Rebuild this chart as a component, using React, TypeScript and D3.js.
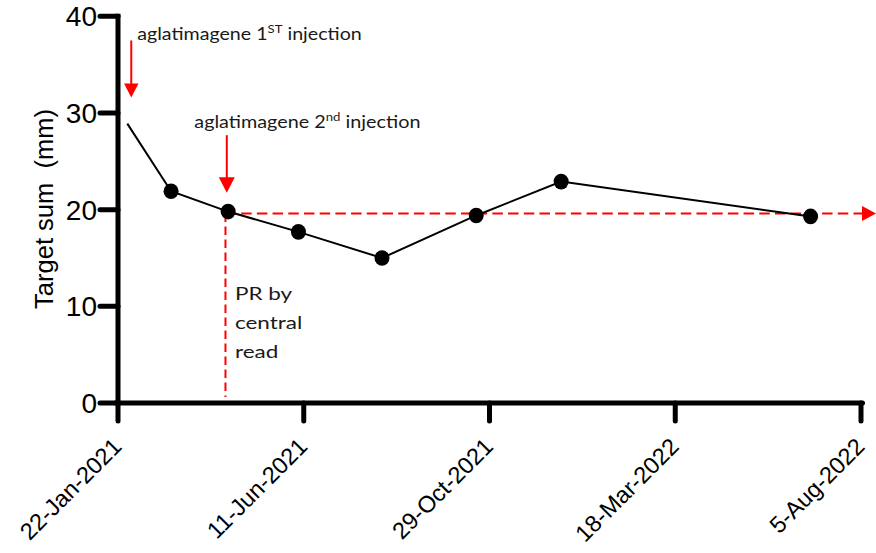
import React from "react";
import * as d3 from "d3";

const dates = ["2021-01-29", "2021-03-03", "2021-04-15", "2021-06-07", "2021-08-09", "2021-10-19", "2021-12-22", "2022-06-28"];
const targetSum = [28.9, 21.9, 19.8, 17.7, 15.0, 19.4, 22.9, 19.3];
const showMarker = [false, true, true, true, true, true, true, true];
const xTickLabels = ["22-Jan-2021", "11-Jun-2021", "29-Oct-2021", "18-Mar-2022", "5-Aug-2022"];
const xTickDates = ["2021-01-22", "2021-06-11", "2021-10-29", "2022-03-18", "2022-08-05"];
const yTicks = [0, 10, 20, 30, 40];

// annotations (data coordinates)
const injection1 = { date: "2021-02-01", from: 37.5, to: 31.6 };
const injection2 = { date: "2021-04-14", from: 27.7, to: 21.75 };
const prDate = "2021-04-13";
const prValue = 19.6;

const W = 876;
const H = 553;
const parse = d3.utcParse("%Y-%m-%d");

export default function App() {
  const x = d3
    .scaleUtc()
    .domain([parse("2021-01-22")!, parse("2022-08-05")!])
    .range([118, 861]);
  const y = d3.scaleLinear().domain([0, 40]).range([403, 16.3]);

  const pts = dates.map((d, i) => [x(parse(d)!), y(targetSum[i])] as [number, number]);
  const line = d3.line()(pts) || "";

  const ann1x = x(parse(injection1.date)!);
  const ann2x = x(parse(injection2.date)!);
  const prx = x(parse(prDate)!);
  const pry = y(prValue);
  const xEnd = x(parse("2022-08-05")!);

  const arrow = (ax: number, y0: number, y1: number, hl: number, hw: number) => (
    <g>
      <line x1={ax} x2={ax} y1={y0} y2={y1 - hl + 1} stroke="#ff0000" strokeWidth={2} />
      <path d={`M${ax - hw},${y1 - hl}L${ax + hw},${y1 - hl}L${ax},${y1}Z`} fill="#ff0000" />
    </g>
  );

  const annFont = "Lato, 'Open Sans', sans-serif";

  return (
    <svg
      width={W}
      height={H}
      style={{ position: "absolute", left: 0, top: 0, background: "#fff" }}
      fontFamily="'Liberation Sans', Arial, sans-serif"
    >
      <rect width={W} height={H} fill="#fff" />

      {/* red dashed reference lines */}
      <line x1={prx} x2={prx} y1={pry} y2={397} stroke="#ff0000" strokeWidth={2} strokeDasharray="8.5,4.5" />
      <line x1={prx} x2={xEnd + 1} y1={pry} y2={pry} stroke="#ff0000" strokeWidth={2} strokeDasharray="10.5,5.2" />
      <path d={`M${xEnd + 1},${pry - 7.5}L${W},${pry}L${xEnd + 1},${pry + 7.5}Z`} fill="#ff0000" />

      {/* data line */}
      <path d={line} fill="none" stroke="#000" strokeWidth={2} />
      {pts.map((p, i) =>
        showMarker[i] ? <ellipse key={i} cx={p[0]} cy={p[1]} rx={7.5} ry={7.8} fill="#000" /> : null
      )}

      {/* arrows */}
      {arrow(ann1x, y(injection1.from), y(injection1.to), 14, 7.2)}
      {arrow(ann2x, y(injection2.from), y(injection2.to), 15.5, 8)}

      {/* annotation texts */}
      <g transform={`translate(${ann1x + 6},40) scale(1.19,1)`}>
        <text fontFamily={annFont} fontSize={16.5} fill="#1a1a1a">
          aglatimagene 1<tspan fontSize={11} dy={-7}>ST</tspan>
          <tspan dy={7}> injection</tspan>
        </text>
      </g>
      <g transform={`translate(${ann2x - 32.5},128) scale(1.2,1)`}>
        <text fontFamily={annFont} fontSize={16.5} fill="#1a1a1a">
          aglatimagene 2<tspan fontSize={11} dy={-7}>nd</tspan>
          <tspan dy={7}> injection</tspan>
        </text>
      </g>
      <g transform={`translate(${prx + 9.5},0) scale(1.25,1)`}>
        <text fontFamily={annFont} fontSize={18} fill="#1a1a1a">
          <tspan x={0} y={300}>PR by</tspan>
          <tspan x={0} y={329.5}>central</tspan>
          <tspan x={0} y={358}>read</tspan>
        </text>
      </g>

      {/* y axis */}
      <line x1={118} x2={118} y1={y(40) - 2.5} y2={y(0) + 2.5} stroke="#000" strokeWidth={5} />
      {yTicks.map((t) => (
        <g key={t}>
          <line x1={100} x2={118} y1={y(t)} y2={y(t)} stroke="#000" strokeWidth={5} strokeLinecap="round" />
          <text x={97} y={y(t) + 10} textAnchor="end" fontSize={28} fill="#000">
            {t}
          </text>
        </g>
      ))}
      <text
        transform={`translate(53,209) rotate(-90)`}
        textAnchor="middle"
        fontSize={25.5}
        fill="#000"
        xmlSpace="preserve"
        style={{ whiteSpace: "pre" }}
      >
        {"Target sum  (mm)"}
      </text>

      {/* x axis */}
      <line x1={115.5} x2={xEnd + 1.5} y1={403} y2={403} stroke="#000" strokeWidth={5} strokeLinecap="round" />
      {xTickDates.map((d, i) => {
        const tx = x(parse(d)!);
        return (
          <g key={d}>
            <line x1={tx} x2={tx} y1={403} y2={421} stroke="#000" strokeWidth={5} strokeLinecap="round" />
            <text
              transform={`translate(${tx + 5},${448}) rotate(-45)`}
              textAnchor="end"
              fontSize={23.5}
              fill="#000"
            >
              {xTickLabels[i]}
            </text>
          </g>
        );
      })}
    </svg>
  );
}
